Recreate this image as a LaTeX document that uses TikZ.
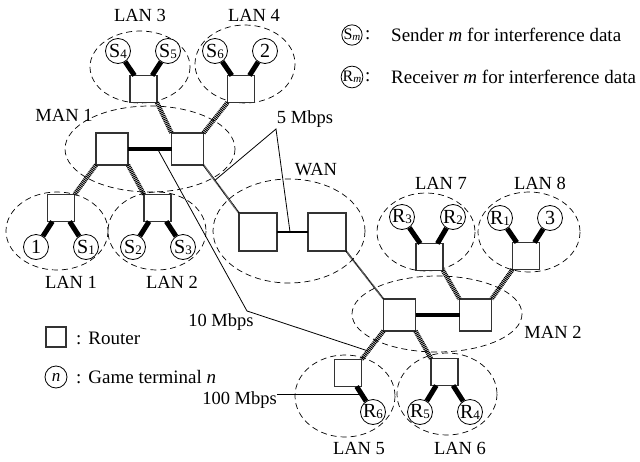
\documentclass[tikz,border=0pt]{standalone}
\usepackage{fontspec}
\setmainfont{Liberation Serif}
\usetikzlibrary{calc}
\newcommand\tsub[2]{#1\raisebox{-1pt}{\fontsize{13}{13}\selectfont #2}}
\newcommand\lsub[2]{#1\raisebox{-0.8pt}{\fontsize{11}{11}\selectfont #2}}
\begin{document}
\begin{tikzpicture}[x=1pt,y=-1pt,
  router/.style={draw=black!80, line width=1.2pt, fill=white, minimum size=27pt, inner sep=0pt, outer sep=0pt},
  bigrouter/.style={router, minimum size=32pt},
  wanrouter/.style={router, minimum size=38pt},
  term/.style={circle, draw, line width=0.8pt, fill=white, minimum size=25pt, inner sep=0pt, font=\fontsize{20}{20}\selectfont},
  zone/.style={draw, line width=0.7pt, dash pattern=on 6pt off 4pt},
  tlink/.style={line width=5pt},
  hatch/.style={line width=4.5pt, dash pattern=on 1pt off 0.8pt},
  thinhatch/.style={line width=1.8pt, dash pattern=on 0.6pt off 0.6pt},
  mlink/.style={line width=4pt},
  wlink/.style={line width=2pt},
  lbl/.style={font=\fontsize{18.5}{18.5}\selectfont, inner sep=0pt},
  leg/.style={font=\fontsize{19}{19}\selectfont, inner sep=0pt, anchor=west},
  pointer/.style={line width=0.8pt}
]
\useasboundingbox (0,0) rectangle (640,461);

% zones
\draw[zone] (140,67) ellipse [x radius=50, y radius=36];
\draw[zone] (245,64) ellipse [x radius=50, y radius=39];
\draw[zone] (150,149) ellipse [x radius=85, y radius=43];
\draw[zone] (57,231) ellipse [x radius=51, y radius=39];
\draw[zone] (157,231) ellipse [x radius=49, y radius=39];
\draw[zone] (289,231) ellipse [x radius=76, y radius=52];
\draw[zone] (426,232) ellipse [x radius=49, y radius=39];
\draw[zone] (529,232) ellipse [x radius=51, y radius=40];
\draw[zone] (437,314) ellipse [x radius=85, y radius=38];
\draw[zone] (345,396) ellipse [x radius=50, y radius=41];
\draw[zone] (447,394) ellipse [x radius=50, y radius=41];

% routers
\node[router] (lan3r) at (143.5,89) {};
\node[router] (lan4r) at (241,89) {};
\node[bigrouter] (man1l) at (112,149) {};
\node[bigrouter] (man1r) at (187.5,149) {};
\node[router] (lan1r) at (61,208) {};
\node[router] (lan2r) at (157.5,208) {};
\node[wanrouter] (wanl) at (258,232) {};
\node[wanrouter] (wanr) at (327,232) {};
\node[router] (lan7r) at (429.5,257) {};
\node[router] (lan8r) at (526,256) {};
\node[bigrouter] (man2l) at (399.5,315) {};
\node[bigrouter] (man2r) at (475.5,315) {};
\node[router] (lan5r) at (348,373) {};
\node[router] (lan6r) at (444.5,372) {};

% terminals
\node[term] (s4) at (118,51) {\tsub{S}{4}};
\node[term] (s5) at (168,51) {\tsub{S}{5}};
\node[term] (s6) at (215,51) {\tsub{S}{6}};
\node[term] (t2) at (265,51) {2};
\node[term] (t1) at (36,247) {1};
\node[term] (s1) at (86,247) {\tsub{S}{1}};
\node[term] (s2) at (133,247) {\tsub{S}{2}};
\node[term] (s3) at (183,247) {\tsub{S}{3}};
\node[term] (r3) at (402,217) {\tsub{R}{3}};
\node[term] (r2) at (453,217) {\tsub{R}{2}};
\node[term] (r1) at (500,218) {\tsub{R}{1}};
\node[term] (t3) at (550,218) {3};
\node[term] (r6) at (373,412) {\tsub{R}{6}};
\node[term] (r5) at (420,412) {\tsub{R}{5}};
\node[term] (r4) at (470,412) {\tsub{R}{4}};

% terminal links
\foreach \t/\r in {s4/lan3r,s5/lan3r,s6/lan4r,t2/lan4r,t1/lan1r,s1/lan1r,s2/lan2r,s3/lan2r,
                   r3/lan7r,r2/lan7r,r1/lan8r,t3/lan8r,r6/lan5r,r5/lan6r,r4/lan6r}
  \draw[tlink] (\t) -- (\r);

% MAN-LAN links
\draw[hatch] (lan3r.south east) -- (man1r.north west);
\draw[hatch] (lan4r.south west) -- (man1r.north east);
\draw[hatch] (man1l.south west) -- (lan1r.north east);
\draw[hatch] (man1l.south east) -- (lan2r.north west);
\draw[hatch] (lan7r.south east) -- (man2r.north west);
\draw[hatch] (lan8r.south west) -- (man2r.north east);
\draw[hatch] (man2l.south west) -- (lan5r.north east);
\draw[hatch] (man2l.south east) -- (lan6r.north west);

% MAN internal
\draw[mlink] (man1l) -- (man1r);
\draw[mlink] (man2l) -- (man2r);
% WAN internal
\draw[wlink] (wanl) -- (wanr);
% WAN-MAN links
\draw[thinhatch] (man1r.south east) -- (wanl.north west);
\draw[thinhatch] (wanr.south east) -- (man2l.north west);

% labels
\node[lbl] at (140,15) {LAN 3};
\node[lbl] at (254,15) {LAN 4};
\node[lbl] at (64,115) {MAN 1};
\node[lbl] at (71,282) {LAN 1};
\node[lbl] at (172,282) {LAN 2};
\node[lbl] at (316,170) {WAN};
\node[lbl] at (441,183) {LAN 7};
\node[lbl] at (540,183) {LAN 8};
\node[lbl] at (553,332) {MAN 2};
\node[lbl] at (359,448) {LAN 5};
\node[lbl] at (460,448) {LAN 6};

% bandwidth pointers
\node[lbl] (b5) at (305,119) {5 Mbps};
\coordinate (b5c) at (276,129);
\coordinate (b5a) at ($(man1r.south east)!0.32!(wanl.north west)$);
\coordinate (b5b) at ($(wanl.east)!0.42!(wanr.west)$);
\draw[pointer] (b5a) -- (b5c) -- (b5b);

\node[lbl] (b10) at (221,322) {10 Mbps};
\coordinate (b10a) at ($(man1l.east)!0.68!(man1r.west)$);
\coordinate (b10c) at (247,311);
\coordinate (b10b) at ($(man2l.south west)!0.7!(lan5r.north east)$);
\draw[pointer] (b10a) -- (b10c) -- (b10b);

\node[lbl, anchor=east] (b100) at (277,400) {100 Mbps};
\coordinate (b100b) at ($(lan5r)!0.54!(r6)$);
\draw[pointer] (b100.east |- b100b) -- (b100b);

% legends
\node[router, minimum size=20pt] (lgr) at (56,337) {};
\node[leg] at (76,338) {:\hspace{7pt}Router};
\node[term, minimum size=22pt, font=\fontsize{17}{17}\selectfont] (lgn) at (56,377) {\textit{n}};
\node[leg] at (76,377) {:\hspace{7pt}Game terminal \textit{n}};

\node[term, minimum size=19pt, font=\fontsize{16}{16}\selectfont] (lgs) at (352,35) {\lsub{S}{\textit{m}}};
\node[leg] at (365,35) {:};
\node[leg] at (391,35) {Sender \textit{m} for interference data};
\node[term, minimum size=19pt, font=\fontsize{16}{16}\selectfont] (lgrr) at (352,77) {\lsub{R}{\textit{m}}};
\node[leg] at (365,77) {:};
\node[leg] at (391,77) {Receiver \textit{m} for interference data};
\end{tikzpicture}
\end{document}
